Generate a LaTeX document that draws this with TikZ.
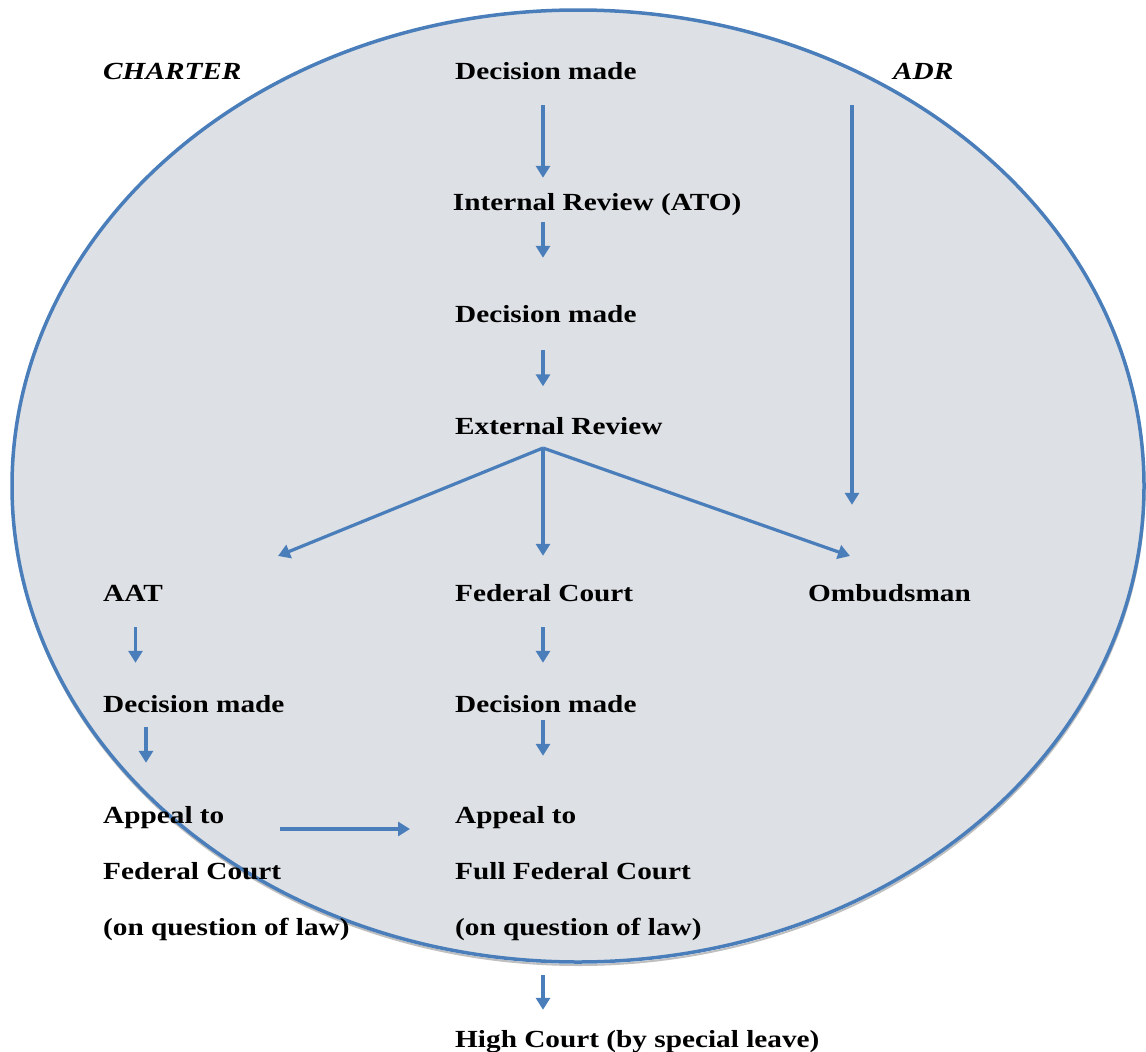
\documentclass[tikz,border=0pt]{standalone}
\usepackage{fontspec}
\setmainfont{Liberation Serif}[FakeStretch=1.19]
\usetikzlibrary{positioning, arrows.meta}

\definecolor{lineblue}{RGB}{74,126,187}
\definecolor{ovalfill}{RGB}{221,224,228}

\tikzset{
    lbl/.style={anchor=base west, inner sep=0pt, text height=17pt, text depth=5pt,
        font=\fontsize{24.6}{29}\selectfont\bfseries},
    arr/.style={draw=lineblue, line width=3.2pt, -{Triangle[length=12pt,width=14pt]}},
}

\begin{document}
\begin{tikzpicture}[x=1pt, y=-1pt]
        \useasboundingbox (0,0) rectangle (1146,1052);
        \draw [gray!50, line width=2pt] (578.5,489) ellipse [x radius=566pt, y radius=476pt];
        \draw [lineblue, fill=ovalfill, line width=3.5pt] (578,486) ellipse [x radius=566pt, y radius=476pt];

        \node [lbl, font=\fontsize{24.6}{29}\selectfont\bfseries\itshape] (charter) at (103,79) {CHARTER};
        \node [lbl] (dm1) at (455,79) {Decision made};
        \node [lbl, font=\fontsize{24.6}{29}\selectfont\bfseries\itshape] (adr) at (893,79) {ADR};
        \node [lbl] (ir) at (452.7,210) {Internal Review (ATO)};
        \node [lbl] (dm2) at (455,322) {Decision made};
        \node [lbl] (er) at (455,434) {External Review};
        \node [lbl] (aat) at (103,601) {AAT};
        \node [lbl] (fc) at (455,601) {Federal Court};
        \node [lbl] (omb) at (808,601) {Ombudsman};
        \node [lbl] (dm3) at (103,712) {Decision made};
        \node [lbl] (dm4) at (455,712) {Decision made};
        \node [lbl] (ap1) at (103,823) {Appeal to};
        \node [below=56pt of ap1.base west, lbl] (ap1b) {Federal Court};
        \node [below=56pt of ap1b.base west, lbl] (ap1c) {(on question of law)};
        \node [lbl] (ap2) at (455,823) {Appeal to};
        \node [below=56pt of ap2.base west, lbl] (ap2b) {Full Federal Court};
        \node [below=56pt of ap2b.base west, lbl] (ap2c) {(on question of law)};
        \node [lbl] (hc) at (455,1047) {High Court (by special leave)};

        \coordinate (spine) at (543,0);
        \coordinate (colA) at (135.5,0);
        \coordinate (colB) at (146,0);
        \coordinate (colR) at (852,0);
        \coordinate (fork) at (543,448);
        \coordinate (toaat) at (278,556);
        \coordinate (toomb) at (850,556);

        \draw [arr, shorten <=21pt, shorten >=15pt] (dm1.south -| spine) to (ir.north -| spine);
        \draw [arr, shorten <=7pt, shorten >=47pt] (ir.south -| spine) to (dm2.north -| spine);
        \draw [arr, shorten <=23pt, shorten >=30.5pt] (dm2.south -| spine) to (er.north -| spine);
        \draw [arr, shorten <=21pt, shorten >=79pt] (adr.south -| colR) to (omb.north -| colR);
        \draw [arr] (fork) to (toaat);
        \draw [arr, shorten >=28pt] (fork) to (fc.north -| spine);
        \draw [arr] (fork) to (toomb);
        \draw [arr, shorten <=21pt, shorten >=32pt] (aat.south -| colA) to (dm3.north -| colA);
        \draw [arr, shorten <=21pt, shorten >=32pt] (fc.south -| spine) to (dm4.north -| spine);
        \draw [arr, shorten <=10pt, shorten >=43pt] (dm3.south -| colB) to (ap1.north -| colB);
        \draw [arr, shorten <=3pt, shorten >=50pt] (dm4.south -| spine) to (ap2.north -| spine);
        \draw [arr, shorten <=55pt, shorten >=45pt] ([yshift=-12pt]ap1.east) to ([yshift=-12pt]ap2.west);
        \draw [arr, shorten <=35pt, shorten >=20pt] (ap2c.south -| spine) to (hc.north -| spine);
    \end{tikzpicture}
\end{document}
